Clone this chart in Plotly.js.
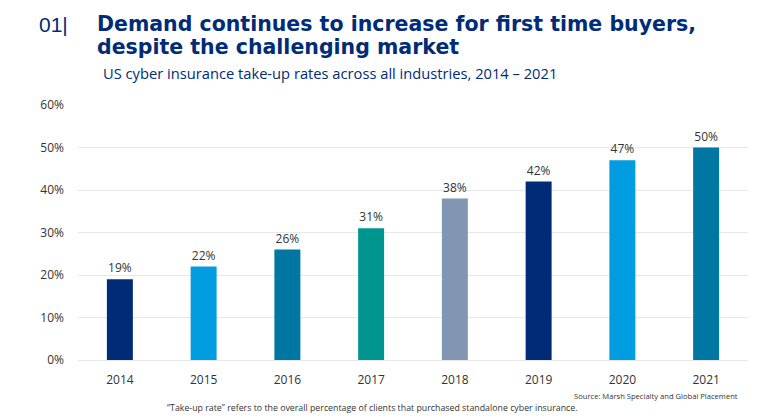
<!DOCTYPE html>
<html>
<head>
<meta charset="utf-8">
<script src="https://cdn.plot.ly/plotly-3.0.1.min.js"></script>
<style>html,body{margin:0;padding:0;background:#fff;}#chart{width:774px;height:419px;}</style>
</head>
<body>
<div id="chart"></div>
<script>
const years = ['2014', '2015', '2016', '2017', '2018', '2019', '2020', '2021'];
const takeUpRates = [19, 22, 26, 31, 38, 42, 47, 50];
const barColors = ['#002c77', '#009de0', '#0076a3', '#00968f', '#8096b2', '#002c77', '#009de0', '#0076a3'];
const yTickValues = [0, 10, 20, 30, 40, 50, 60];
const yTickLabels = ['0%', '10%', '20%', '30%', '40%', '50%', '60%'];

const L = 78, R = 26, T = 105, B = 59, W = 774, H = 419;
const pw = W - L - R, ph = H - T - B;
const px = x => (x - L) / pw;
const py = y => (H - B - y) / ph;

const trace = {
  type: 'bar',
  x: years,
  y: takeUpRates,
  marker: {color: barColors},
  width: 0.31,
  text: takeUpRates.map(v => v + '%'),
  textposition: 'outside',
  textfont: {family: 'Open Sans', size: 12, color: '#333333'},
  cliponaxis: false,
  hoverinfo: 'none'
};

const navy = '#002c77';
const titleFont = {family: 'DejaVu Sans', size: 20.5, color: navy};
const layout = {
  width: W, height: H,
  margin: {l: L, r: R, t: T, b: B, pad: 0},
  paper_bgcolor: '#ffffff',
  plot_bgcolor: '#ffffff',
  showlegend: false,
  bargap: 0.69,
  font: {family: 'Open Sans', color: '#333333'},
  xaxis: {
    type: 'category',
    range: [-0.5, 7.5],
    showgrid: false,
    showline: false,
    zeroline: false,
    ticks: '',
    tickfont: {family: 'Open Sans', size: 12, color: '#333333'},
    ticklabelstandoff: 11,
    fixedrange: true
  },
  yaxis: {
    range: [0, 60],
    tickvals: yTickValues,
    ticktext: yTickLabels,
    showgrid: true,
    gridcolor: '#e8e8e8',
    gridwidth: 1,
    zeroline: true,
    zerolinecolor: '#e8e8e8',
    zerolinewidth: 1,
    showline: false,
    ticks: '',
    tickfont: {family: 'Open Sans', size: 12, color: '#333333'},
    ticklabelstandoff: 13,
    fixedrange: true
  },
  annotations: [
    {xref: 'paper', yref: 'paper', x: px(37), y: py(24), xanchor: 'left', yanchor: 'middle',
     text: '01|', showarrow: false, font: {family: 'Liberation Sans', size: 21, color: navy}},
    {xref: 'paper', yref: 'paper', x: px(95), y: py(23.5), xanchor: 'left', yanchor: 'middle', align: 'left',
     text: '<b>Demand continues to increase for first time buyers,</b>',
     showarrow: false, font: titleFont},
    {xref: 'paper', yref: 'paper', x: px(95), y: py(47.5), xanchor: 'left', yanchor: 'middle', align: 'left',
     text: '<b>despite the challenging market</b>',
     showarrow: false, font: titleFont},
    {xref: 'paper', yref: 'paper', x: px(101), y: py(73), xanchor: 'left', yanchor: 'middle',
     text: 'US cyber insurance take-up rates across all industries, 2014 \u2013 2021',
     showarrow: false, font: {family: 'Open Sans', size: 14.7, color: navy}},
    {xref: 'paper', yref: 'paper', x: px(740), y: py(396), xanchor: 'right', yanchor: 'middle',
     text: 'Source: Marsh Specialty and Global Placement',
     showarrow: false, font: {family: 'Open Sans', size: 7.6, color: '#333333'}},
    {xref: 'paper', yref: 'paper', x: px(372), y: py(408), xanchor: 'center', yanchor: 'middle',
     text: '\u201cTake-up rate\u201d refers to the overall percentage of clients that purchased standalone cyber insurance.',
     showarrow: false, font: {family: 'Open Sans', size: 8.8, color: '#333333'}}
  ]
};

Plotly.newPlot('chart', [trace], layout, {displayModeBar: false, staticPlot: true});
</script>
</body>
</html>
